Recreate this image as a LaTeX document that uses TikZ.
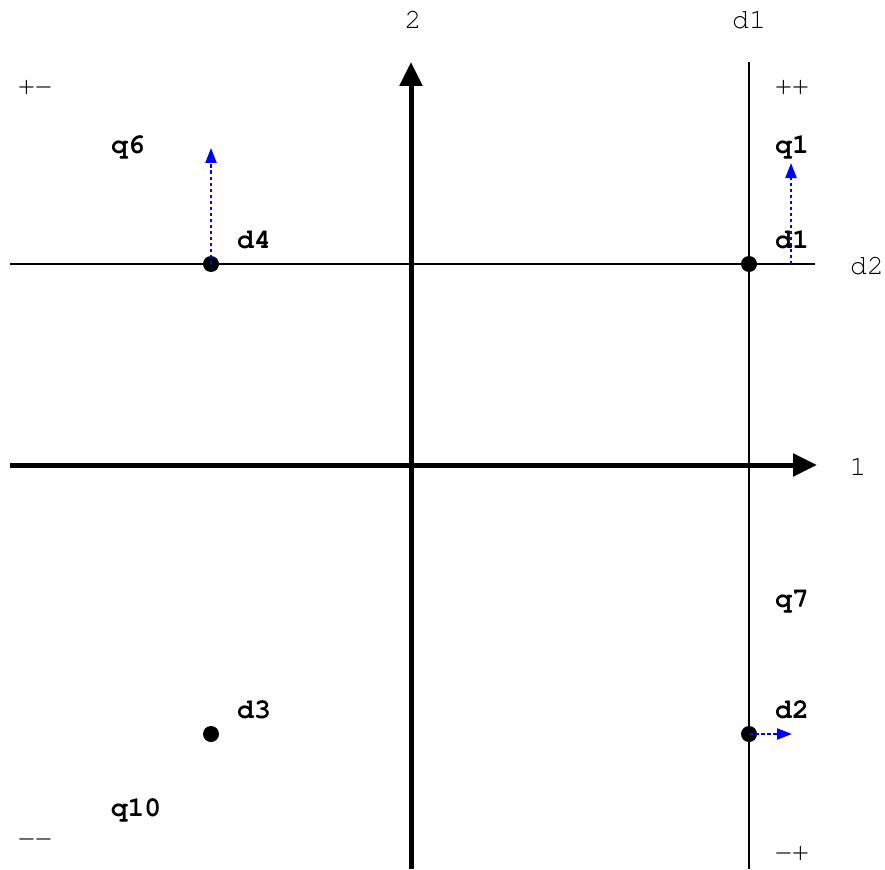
\documentclass[tikz,border=0pt]{standalone}
\usepackage{fontspec}
\setmonofont{texgyrecursor}[Extension=.otf,UprightFont=*-regular,BoldFont=*-bold]
\usetikzlibrary{arrows.meta}
\begin{document}
\begin{tikzpicture}[x=1pt,y=-1pt,
  lbl/.style={font=\ttfamily\fontsize{28}{30}\selectfont},
  blbl/.style={font=\ttfamily\bfseries\fontsize{28}{30}\selectfont},
  axis/.style={line width=5pt,-{Triangle[length=24pt,width=22pt]}},
  thin/.style={line width=2pt},
  dot/.style={circle,fill=black,inner sep=0pt,minimum size=16pt},
  vec/.style={blue,line width=2.2pt,dash pattern=on 3.5pt off 2.5pt,-{Triangle[length=15pt,width=11pt]}}]
\useasboundingbox (0,0) rectangle (885,869);
% thin lines
\coordinate (d1top) at (749,62);
\coordinate (d1bot) at (749,869);
\coordinate (d2l) at (10,264);
\coordinate (d2r) at (815,264);
\draw[thin] (d1bot) -- (d1top);
\draw[thin] (d2l) -- (d2r);
% axes
\coordinate (xl) at (10,465);
\coordinate (xr) at (817,465);
\coordinate (yb) at (411,869);
\coordinate (yt) at (411,62);
\draw[axis] (xl) -- (xr);
\draw[axis] (yb) -- (yt);
% axis labels
\node[lbl] (l1) at (858,467) {1};
\node[lbl] (l2) at (413,20) {2};
\node[lbl] (ld1) at (749,20) {d1};
\node[lbl] (ld2) at (867,266) {d2};
% quadrant labels
\node[lbl] (qpm) at (35,87) {+−};
\node[lbl] (qpp) at (792,87) {++};
\node[lbl] (qmm) at (35,843) {−−};
\node[lbl] (qmp) at (792,853) {−+};
% points
\node[dot] (p4) at (211,264) {};
\node[dot] (p1) at (749,264) {};
\node[dot] (p3) at (211,734) {};
\node[dot] (p2) at (749,734) {};
% vectors
\coordinate (v6s) at (211,264);
\coordinate (v6e) at (211,148);
\coordinate (v1s) at (791,264);
\coordinate (v1e) at (791,163);
\coordinate (v2s) at (749,734);
\coordinate (v2e) at (792,734);
\draw[vec] (v6s) -- (v6e);
\draw[vec] (v1s) -- (v1e);
\draw[vec] (v2s) -- (v2e);
% bold labels
\node[blbl] (nd4) at (254,240) {d4};
\node[blbl] (nd1) at (792,240) {d1};
\node[blbl] (nd3) at (254,710) {d3};
\node[blbl] (nd2) at (792,710) {d2};
\node[blbl] (nq6) at (128,147) {q6};
\node[blbl] (nq1) at (792,147) {q1};
\node[blbl] (nq7) at (792,602) {q7};
\node[blbl] (nq10) at (136,810) {q10};
\end{tikzpicture}
\end{document}
